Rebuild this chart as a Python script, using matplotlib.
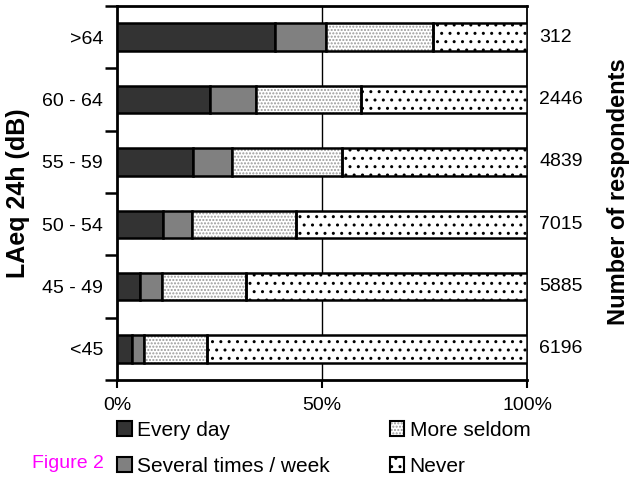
import matplotlib
matplotlib.use('Agg')
import matplotlib.pyplot as plt
from matplotlib.patches import Patch
import numpy as np

plt.rcParams['font.family'] = ['Liberation Sans', 'DejaVu Sans']
plt.rcParams['hatch.linewidth'] = 1.0

groups = ['>64', '60 - 64', '55 - 59', '50 - 54', '45 - 49', '<45']
respondents = [312, 2446, 4839, 7015, 5885, 6196]
every_day = [38.6, 22.7, 18.6, 11.3, 5.6, 3.6]
several = [12.3, 11.2, 9.5, 7.1, 5.3, 3.1]
more_seldom = [26.1, 25.7, 26.7, 25.2, 20.6, 15.2]
never = [23.0, 40.4, 45.2, 56.4, 68.5, 78.1]

series = ['Every day', 'Several times / week', 'More seldom', 'Never']

fig = plt.figure(figsize=(6.32, 4.8), dpi=100)
ax = fig.add_axes([0.185, 0.208, 0.649, 0.7795])

y = np.arange(len(groups))[::-1]
h = 0.44
lw = 1.8

left = np.zeros(len(groups))
ax.barh(y, every_day, h, left=left, color='#333333', edgecolor='black', linewidth=lw, zorder=3)
left += every_day
ax.barh(y, several, h, left=left, color='#808080', edgecolor='black', linewidth=lw, zorder=3)
left += several
ax.barh(y, more_seldom, h, left=left, color='white', edgecolor='#999999', hatch='.....', linewidth=0, zorder=3)
ax.barh(y, more_seldom, h, left=left, fill=False, edgecolor='black', linewidth=lw, zorder=4)
left += more_seldom
ax.barh(y, never, h, left=left, color='white', edgecolor='black', hatch='..', linewidth=0, zorder=3)
ax.barh(y, never, h, left=left, fill=False, edgecolor='black', linewidth=lw, zorder=4)

ax.set_xlim(0, 100)
ax.set_ylim(-0.5, len(groups) - 0.5)
ax.axvline(50, color='black', linewidth=1, zorder=1)

ax.set_xticks([0, 50, 100])
ax.set_xticklabels(['0%', '50%', '100%'], fontsize=14)
ax.set_yticks(y)
ax.set_yticklabels(groups, fontsize=14)
ax.tick_params(axis='y', length=0, pad=10)
ax.set_yticks(np.arange(-0.5, len(groups), 1), minor=True)
ax.tick_params(axis='y', which='minor', length=9, width=1.8)
ax.tick_params(axis='x', length=6, width=1.5, pad=6)

ax.spines['left'].set_linewidth(2)
ax.spines['bottom'].set_linewidth(2)
ax.spines['top'].set_linewidth(2)
ax.spines['right'].set_linewidth(1.3)

ax.set_ylabel('LAeq 24h (dB)', fontsize=18, fontweight='bold', labelpad=9)

for yi, n in zip(y, respondents):
    ax.text(1.03, yi, str(n), transform=ax.get_yaxis_transform(), va='center', ha='left', fontsize=14)

fig.text(0.979, 0.6, 'Number of respondents', rotation=90, ha='center', va='center',
         fontsize=17, fontweight='bold')

handles = [
    Patch(facecolor='#333333', edgecolor='black', linewidth=1.5),
    Patch(facecolor='#808080', edgecolor='black', linewidth=1.5),
    (Patch(facecolor='white', edgecolor='#999999', hatch='.....', linewidth=0),
     Patch(fill=False, edgecolor='black', linewidth=1.5)),
    (Patch(facecolor='white', edgecolor='black', hatch='..', linewidth=0),
     Patch(fill=False, edgecolor='black', linewidth=1.5)),
]
fig.legend(handles, series, ncol=2, loc='upper left', bbox_to_anchor=(0.185, 0.123),
           frameon=False, fontsize=15, handlelength=0.7, handleheight=0.7,
           handletextpad=0.25, columnspacing=2.9, labelspacing=0.8, borderpad=0,
           borderaxespad=0)

fig.text(0.051, 0.017, 'Figure 2', color='#ff00ff', fontsize=14, va='bottom', ha='left')

fig.savefig('out.png', dpi=100)
